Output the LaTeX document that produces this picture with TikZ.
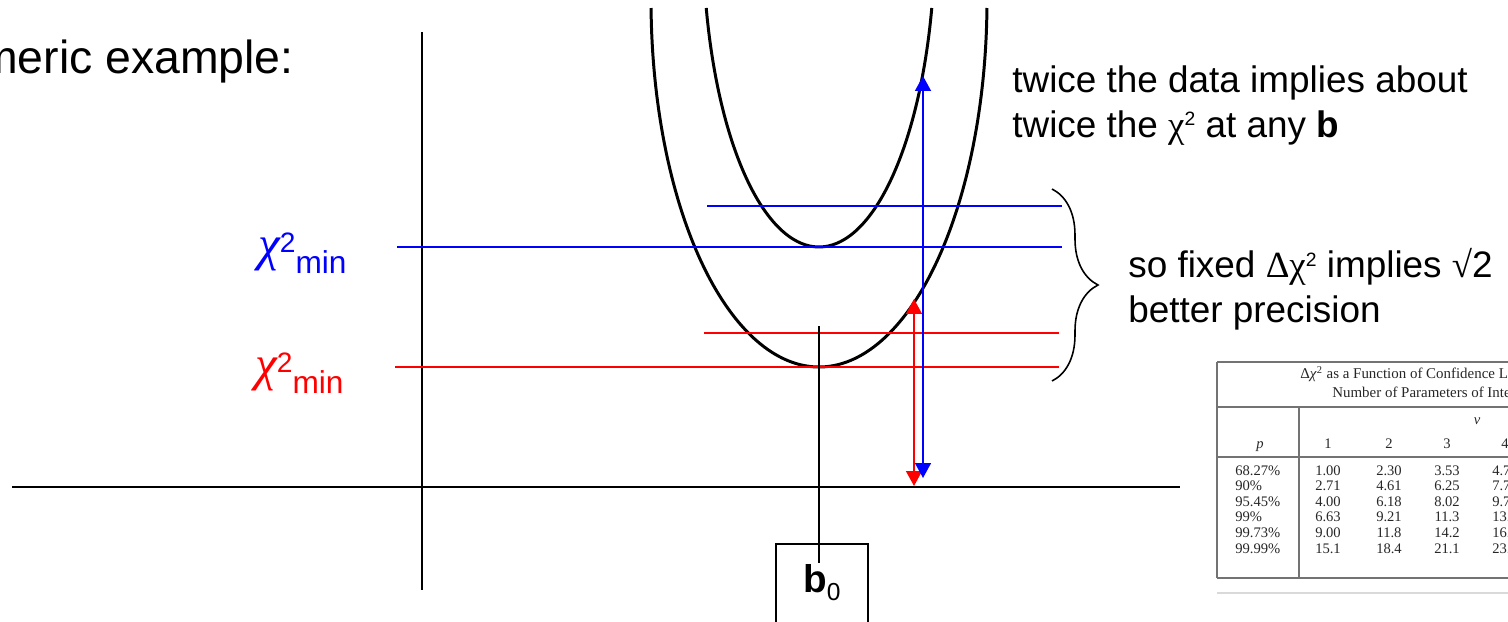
\documentclass[tikz,border=0pt]{standalone}
\usepackage{fontspec}
\setmainfont{Liberation Sans}
\newfontfamily\symfont{Liberation Serif}
\usetikzlibrary{arrows.meta,decorations.pathreplacing}

\newcommand{\chimin}{{\symfont\itshape\fontsize{28}{28}\selectfont χ}\raisebox{4pt}{\fontsize{16}{16}\selectfont 2}\raisebox{-7.4pt}{\fontsize{18}{18}\selectfont min}}
\newcommand{\supII}{\raisebox{6.5pt}{\fontsize{11}{11}\selectfont 2}}

\begin{document}
\begin{tikzpicture}[
    x=0.02cm, y=-0.02cm,
    axis/.style={line width=1.1pt},
    curve/.style={line width=1.7pt},
    lvl/.style={line width=0.9pt},
    arr/.style={<->, line width=1.1pt, >={Triangle[width=9pt,length=8.5pt]}},
    big/.style={font=\fontsize{21}{25.3}\selectfont, align=left, inner sep=0pt, anchor=base west},
    chilab/.style={inner sep=0pt, anchor=base west},
    tab/.style={font=\symfont\fontsize{8.3}{9}\selectfont, text=black!85, inner sep=0pt, anchor=base},
    tabhead/.style={font=\symfont\fontsize{8.5}{9}\selectfont, text=black!85, inner sep=0pt, anchor=base west},
    tabrule/.style={black!55, line width=0.6pt}
]
\useasboundingbox (0,0) rectangle (1508,622);
\clip (0,0) rectangle (1508,622);

% axes
\coordinate (yaxtop) at (422,32);
\coordinate (yaxbot) at (422,590);
\coordinate (xaxl) at (12,487);
\coordinate (xaxr) at (1180,487);
\draw[axis] (yaxtop) -- (yaxbot);
\draw[axis] (xaxl) -- (xaxr);

\node[font=\fontsize{26.4}{30}\selectfont, inner sep=0pt, anchor=base east] (title) at (294,73) {Numeric example:};

% chi2 curves
\draw[curve] plot[domain=1.25:178.75, samples=90, smooth, variable=\t] ({819+168*cos(\t)}, {367*sin(\t)});
\draw[curve] plot[domain=13.53:166.47, samples=80, smooth, variable=\t] ({819+116*cos(\t)}, {-65+312*sin(\t)});

% levels
\coordinate (blo1) at (397,247);  \coordinate (bhi1) at (1062,247);
\coordinate (blo2) at (707,206);  \coordinate (bhi2) at (1062,206);
\coordinate (rlo1) at (395,367);  \coordinate (rhi1) at (1059,367);
\coordinate (rlo2) at (704,333);  \coordinate (rhi2) at (1059,333);
\draw[lvl, blue] (blo1) -- (bhi1);
\draw[lvl, blue] (blo2) -- (bhi2);
\draw[lvl, red] (rlo1) -- (rhi1);
\draw[lvl, red] (rlo2) -- (rhi2);

\node[chilab, text=blue] (chib) at (258,260) {\chimin};
\node[chilab, text=red] (chir) at (255,380) {\chimin};

% b0
\node[draw, line width=1.1pt, inner sep=0pt, minimum width=1.84cm, text height=27.9pt, text depth=27.3pt, anchor=north] (b0) at (822,543) {\fontsize{22}{22}\selectfont\textbf{b}\raisebox{-4.5pt}{\fontsize{14}{14}\selectfont 0}\hspace{5pt}};
\coordinate (tick) at (819,326);
\coordinate (tickend) at (819,563);
\draw[lvl, line width=1.1pt] (tick) -- (tickend);

% arrows
\coordinate (rtop) at (914,299);
\coordinate (rbot) at (914,486);
\coordinate (btop) at (923,76);
\coordinate (bbot) at (923,478);
\draw[arr, red] (rbot) -- (rtop);
\draw[arr, blue] (bbot) -- (btop);

\node[big] (twice) at (1012,137) {twice the data implies about\\twice the {\symfont χ}\supII{} at any \textbf{b}};

% brace
\coordinate (brtop) at (1052,189);
\coordinate (brbot) at (1052,381);
\draw[decorate, decoration={brace, amplitude=0.92cm}, line width=0.9pt] (brtop) -- (brbot);
\node[big] (sofixed) at (1128,322) {so fixed {\symfont Δχ}\supII{} implies {\symfont √}2\\better precision};

% table
\draw[black!15, line width=1pt] (1217,593) -- (1520,593);
\draw[tabrule, line width=1pt] (1217,362) -- (1520,362);
\draw[tabrule] (1217,407) -- (1520,407);
\draw[tabrule] (1217,457) -- (1520,457);
\draw[tabrule, line width=1pt] (1217,578) -- (1520,578);
\draw[tabrule] (1217,362) -- (1217,578);
\draw[tabrule] (1299,407) -- (1299,578);
\node[tabhead] (th1) at (1300,378) {Δ\textit{χ}\textsuperscript{2} as a Function of Confidence Level and};
\node[tabhead] (th2) at (1332,397) {Number of Parameters of Interest};
\node[tab] (nu) at (1477,424) {\textit{ν}};
\node[tab] (hp) at (1260,448) {\textit{p}};
\node[tab] (h1) at (1328,448) {1};
\node[tab] (h2) at (1389,448) {2};
\node[tab] (h3) at (1447,448) {3};
\node[tab] (h4) at (1505,448) {4};
\foreach \pp/\va/\vb/\vc/\vd [count=\i] in {68.27\%/1.00/2.30/3.53/4.72, 90\%/2.71/4.61/6.25/7.78, 95.45\%/4.00/6.18/8.02/9.72, 99\%/6.63/9.21/11.3/13.3, 99.73\%/9.00/11.8/14.2/16.3, 99.99\%/15.1/18.4/21.1/23.5}{
  \node[tab, anchor=base west] (p\i) at (1235,459.4+15.6*\i) {\pp};
  \node[tab] (a\i) at (1328,459.4+15.6*\i) {\va};
  \node[tab] (b\i) at (1389,459.4+15.6*\i) {\vb};
  \node[tab] (c\i) at (1447,459.4+15.6*\i) {\vc};
  \node[tab] (d\i) at (1505,459.4+15.6*\i) {\vd};
}
\end{tikzpicture}
\end{document}
